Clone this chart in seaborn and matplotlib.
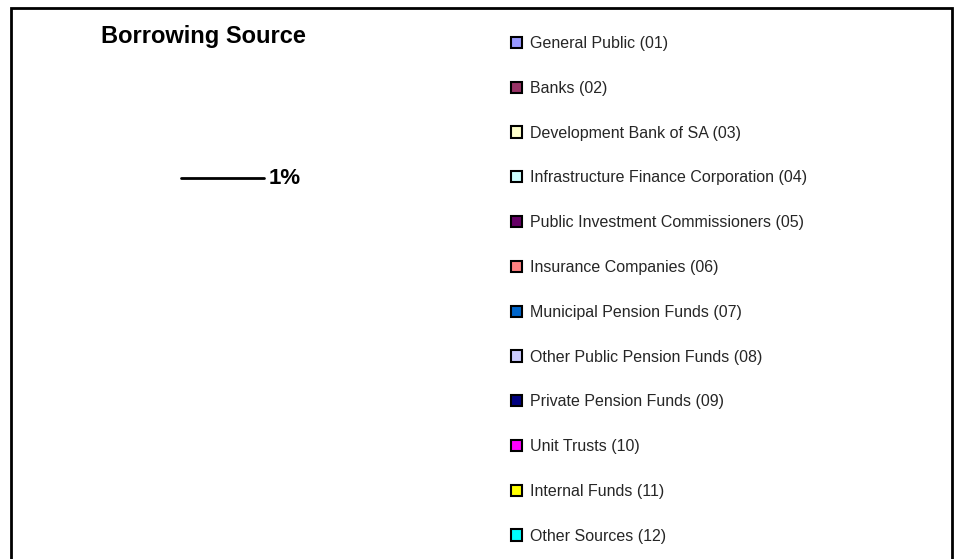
import matplotlib
matplotlib.use("Agg")
import matplotlib.pyplot as plt
import seaborn as sns
from matplotlib.patches import Patch

# --- dati ---
titolo = "Borrowing Source"
categorie = [
    "General Public (01)",
    "Banks (02)",
    "Development Bank of SA (03)",
    "Infrastructure Finance Corporation (04)",
    "Public Investment Commissioners (05)",
    "Insurance Companies (06)",
    "Municipal Pension Funds (07)",
    "Other Public Pension Funds (08)",
    "Private Pension Funds (09)",
    "Unit Trusts (10)",
    "Internal Funds (11)",
    "Other Sources (12)",
]
colori = ["#9999FF", "#993366", "#FFFFCC", "#CCFFFF", "#660066", "#FF8080",
          "#0066CC", "#CCCCFF", "#000080", "#FF00FF", "#FFFF00", "#00FFFF"]
etichetta_dato = "1%"

sns.set_theme(style="white")
plt.rcParams['font.family'] = ['Liberation Sans', 'DejaVu Sans']

W, H = 956, 559
fig = plt.figure(figsize=(W / 100, H / 100), dpi=100)
ax = fig.add_axes([0, 0, 1, 1])
ax.set_xlim(0, W)
ax.set_ylim(H, 0)
ax.axis("off")

# cornice del grafico (senza bordo inferiore, e' tagliato)
ax.plot([11, 11, 952, 952], [H + 5, 8, 8, H + 5], color="black", lw=2,
        solid_joinstyle="miter", clip_on=False)

# titolo
ax.text(203, 36, titolo, ha="center", va="center", fontsize=17,
        fontweight="bold", color="black")

# etichetta dati con linea guida
ax.plot([181, 264], [178, 178], color="black", lw=2)
ax.text(269, 178, etichetta_dato, ha="left", va="center", fontsize=16,
        fontweight="bold", color="black")

# legenda
maniglie = [Patch(facecolor=c, edgecolor="black", linewidth=1.5) for c in colori]
fig.legend(maniglie, categorie, loc="upper left",
           bbox_to_anchor=(511 / W, 1 - 36 / H), frameon=False,
           fontsize=11.5, handlelength=0.7, handleheight=0.7,
           handletextpad=0.5, labelspacing=1.865, borderaxespad=0,
           borderpad=0)

plt.savefig("out.png", dpi=100)
